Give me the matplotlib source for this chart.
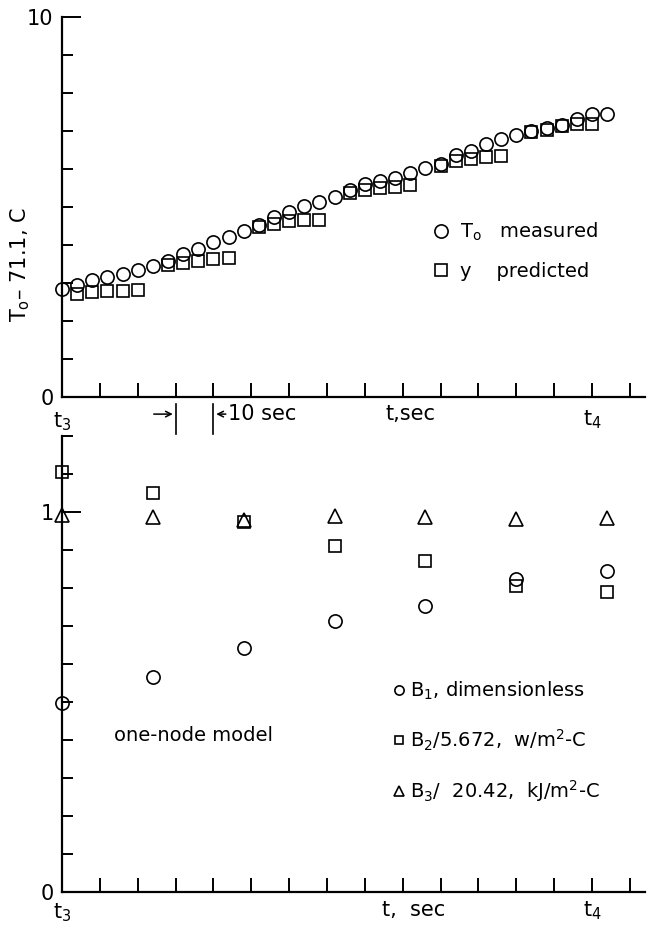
import matplotlib.pyplot as plt

plt.rcParams['font.family'] = ['DejaVu Sans']
plt.rcParams['mathtext.default'] = 'regular'

# top panel: temperature rise, measured vs predicted (1 tick = 10 sec)
t_meas = [0.0, 0.4, 0.8, 1.2, 1.6, 2.0, 2.4, 2.8, 3.2, 3.6, 4.0, 4.4, 4.8,
          5.2, 5.6, 6.0, 6.4, 6.8, 7.2, 7.6, 8.0, 8.4, 8.8, 9.2, 9.6, 10.0,
          10.4, 10.8, 11.2, 11.6, 12.0, 12.4, 12.8, 13.2, 13.6, 14.0, 14.4]
T_meas = [2.83, 2.94, 3.07, 3.16, 3.23, 3.34, 3.45, 3.58, 3.76, 3.89, 4.07,
          4.22, 4.36, 4.53, 4.73, 4.88, 5.02, 5.14, 5.27, 5.46, 5.60, 5.68,
          5.75, 5.90, 6.02, 6.12, 6.37, 6.48, 6.65, 6.78, 6.89, 7.00, 7.09,
          7.16, 7.31, 7.44, 7.45]
t_pred = [0.4, 0.8, 1.2, 1.6, 2.0,
          2.8, 3.2, 3.6, 4.0, 4.4,
          5.2, 5.6, 6.0, 6.4, 6.8,
          7.6, 8.0, 8.4, 8.8, 9.2,
          10.0, 10.4, 10.8, 11.2, 11.6,
          12.4, 12.8, 13.2, 13.6, 14.0]
y_pred = [2.72, 2.76, 2.80, 2.78, 2.82,
          3.47, 3.53, 3.58, 3.62, 3.65,
          4.47, 4.56, 4.62, 4.65, 4.65,
          5.38, 5.45, 5.49, 5.53, 5.57,
          6.09, 6.21, 6.25, 6.32, 6.34,
          6.98, 7.03, 7.13, 7.18, 7.18]

# bottom panel: parameter estimates
t_par = [0.0, 2.4, 4.8, 7.2, 9.6, 12.0, 14.4]
B1 = [0.497, 0.566, 0.642, 0.713, 0.753, 0.825, 0.845]
B2 = [1.105, 1.05, 0.975, 0.911, 0.872, 0.806, 0.79]
B3 = [0.992, 0.987, 0.98, 0.989, 0.986, 0.982, 0.983]

fig = plt.figure(figsize=(6.48, 9.25), dpi=100)
W, H = 648, 925
ax1 = fig.add_axes([62 / W, (H - 397) / H, 583 / W, 380 / H])
ax2 = fig.add_axes([62 / W, (H - 892) / H, 583 / W, 456 / H])

for ax in (ax1, ax2):
    ax.spines['top'].set_visible(False)
    ax.spines['right'].set_visible(False)
    ax.spines['left'].set_linewidth(1.6)
    ax.spines['bottom'].set_linewidth(1.6)
    ax.set_xlim(0, 15.4)
    ax.set_xticks(range(16))
    ax.set_xticklabels([])
    ax.tick_params(axis='x', direction='in', length=10, width=1.4)
    ax.tick_params(axis='y', which='both', direction='in', width=1.4,
                   labelsize=15, pad=6)
    ax.tick_params(axis='y', which='major', length=14)
    ax.tick_params(axis='y', which='minor', length=8)

mk = dict(linestyle='none', mfc='none', mec='black', mew=1.2, clip_on=False)

# --- top panel ---
ax1.set_ylim(0, 10)
ax1.set_yticks([0, 10])
ax1.set_yticks(range(1, 10), minor=True)
ax1.plot(t_meas, T_meas, marker='o', ms=9.5, label=r'T$_o$   measured', **mk)
ax1.plot(t_pred, y_pred, marker='s', ms=8.5, label='y    predicted', **mk)
ax1.legend(loc='center left', bbox_to_anchor=(431 / W, (H - 251) / H),
           bbox_transform=fig.transFigure, frameon=False, fontsize=14,
           handlelength=1.0, handletextpad=0.5, labelspacing=0.95,
           borderpad=0, borderaxespad=0, numpoints=1)

ax1.text(0, -0.65, r't$_3$', ha='center', va='center', fontsize=15)
ax1.text(14, -0.6, r't$_4$', ha='center', va='center', fontsize=15)
ax1.text(9.2, -0.45, 't,sec', ha='center', va='center', fontsize=15)
ax1.plot([3, 3], [-0.18, -0.97], color='black', lw=1.2, clip_on=False)
ax1.plot([4, 4], [-0.18, -0.97], color='black', lw=1.2, clip_on=False)
ax1.annotate('', xy=(3, -0.45), xytext=(2.35, -0.45),
             arrowprops=dict(arrowstyle='->', lw=1.1, color='black'),
             annotation_clip=False)
ax1.annotate('', xy=(4, -0.45), xytext=(4.4, -0.45),
             arrowprops=dict(arrowstyle='->', lw=1.1, color='black'),
             annotation_clip=False)
ax1.text(4.38, -0.45, '10 sec', ha='left', va='center', fontsize=15)
fig.text(20 / W, (H - 265) / H, r'T$_o$– 71.1, C', rotation=90,
         ha='center', va='center', fontsize=15)

# --- bottom panel ---
ax2.set_ylim(0, 1.2)
ax2.set_yticks([0, 1])
ax2.set_yticks([0.1, 0.2, 0.3, 0.4, 0.5, 0.6, 0.7, 0.8, 0.9, 1.1, 1.2],
               minor=True)
ax2.plot(t_par, B1, marker='o', ms=9.5, label=r'B$_1$, dimensionless', **mk)
ax2.plot(t_par, B2, marker='s', ms=9, label=r'B$_2$/5.672,  w/m$^2$-C', **mk)
ax2.plot(t_par, B3, marker='^', ms=10.5,
         label=r'B$_3$/  20.42,  kJ/m$^2$-C', **mk)
ax2.legend(loc='center left', bbox_to_anchor=(394 / W, (H - 742) / H),
           bbox_transform=fig.transFigure, frameon=False, fontsize=14,
           handlelength=0.5, handletextpad=0.3, labelspacing=1.3,
           borderpad=0, borderaxespad=0, numpoints=1, markerscale=0.7)
ax2.text(1.37, 0.413, 'one-node model', ha='left', va='center', fontsize=14)

ax2.text(0, -0.055, r't$_3$', ha='center', va='center', fontsize=15)
ax2.text(14, -0.05, r't$_4$', ha='center', va='center', fontsize=15)
ax2.text(9.3, -0.047, 't,  sec', ha='center', va='center', fontsize=15)

fig.savefig('out.png', dpi=100)
